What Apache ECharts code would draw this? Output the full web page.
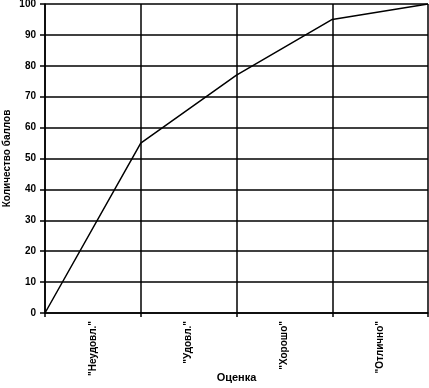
<!DOCTYPE html>
<html>
<head>
<meta charset="utf-8">
<script src="https://cdn.jsdelivr.net/npm/echarts@6/dist/echarts.min.js"></script>
<style>html,body{margin:0;padding:0;background:#fff}#c{width:429px;height:388px}</style>
</head>
<body>
<div id="c"></div>
<script>
var categories = ['"Неудовл."', '"Удовл."', '"Хорошо"', '"Отлично"'];
var pointPositions = [0, 1, 2, 3, 4];
var scores = [0, 55, 77, 95, 100];
var yTicks = [0, 10, 20, 30, 40, 50, 60, 70, 80, 90, 100];

var font = 'Liberation Sans, Arial, sans-serif';
var chart = echarts.init(document.getElementById('c'));
chart.setOption({
  animation: false,
  backgroundColor: '#fff',
  grid: { left: 45, right: 1, top: 4, bottom: 75, containLabel: false, outerBoundsMode: 'none' },
  xAxis: [
    {
      type: 'category',
      data: categories,
      boundaryGap: true,
      name: 'Оценка',
      nameLocation: 'middle',
      nameGap: 59,
      nameMoveOverlap: false,
      nameTextStyle: { color: '#000', fontFamily: font, fontWeight: 'bold', fontSize: 11 },
      axisLine: { show: true, lineStyle: { color: '#000', width: 1.5 } },
      axisTick: { show: true, length: 4, lineStyle: { color: '#000', width: 1.5 } },
      axisLabel: { rotate: 90, color: '#000', fontFamily: font, fontWeight: 'bold', fontSize: 10, margin: 8 },
      splitLine: { show: true, lineStyle: { color: '#000', width: 1.5 } }
    },
    {
      type: 'value',
      min: 0, max: 4,
      show: false,
      position: 'bottom'
    }
  ],
  yAxis: {
    type: 'value',
    min: yTicks[0], max: yTicks[yTicks.length - 1], interval: 10,
    name: 'Количество баллов',
    nameLocation: 'middle',
    nameGap: 33,
    nameMoveOverlap: false,
    nameTextStyle: { color: '#000', fontFamily: font, fontWeight: 'bold', fontSize: 10 },
    axisLine: { show: true, lineStyle: { color: '#000', width: 1.5 } },
    axisTick: { show: true, length: 5, lineStyle: { color: '#000', width: 1.5 } },
    axisLabel: { color: '#000', fontFamily: font, fontWeight: 'bold', fontSize: 10, margin: 9 },
    splitLine: { show: true, lineStyle: { color: '#000', width: 1.5 } }
  },
  series: [{
    type: 'line',
    xAxisIndex: 1,
    data: pointPositions.map(function (p, i) { return [p, scores[i]]; }),
    showSymbol: false,
    lineStyle: { color: '#000', width: 1.5 }
  }]
});
</script>
</body>
</html>
